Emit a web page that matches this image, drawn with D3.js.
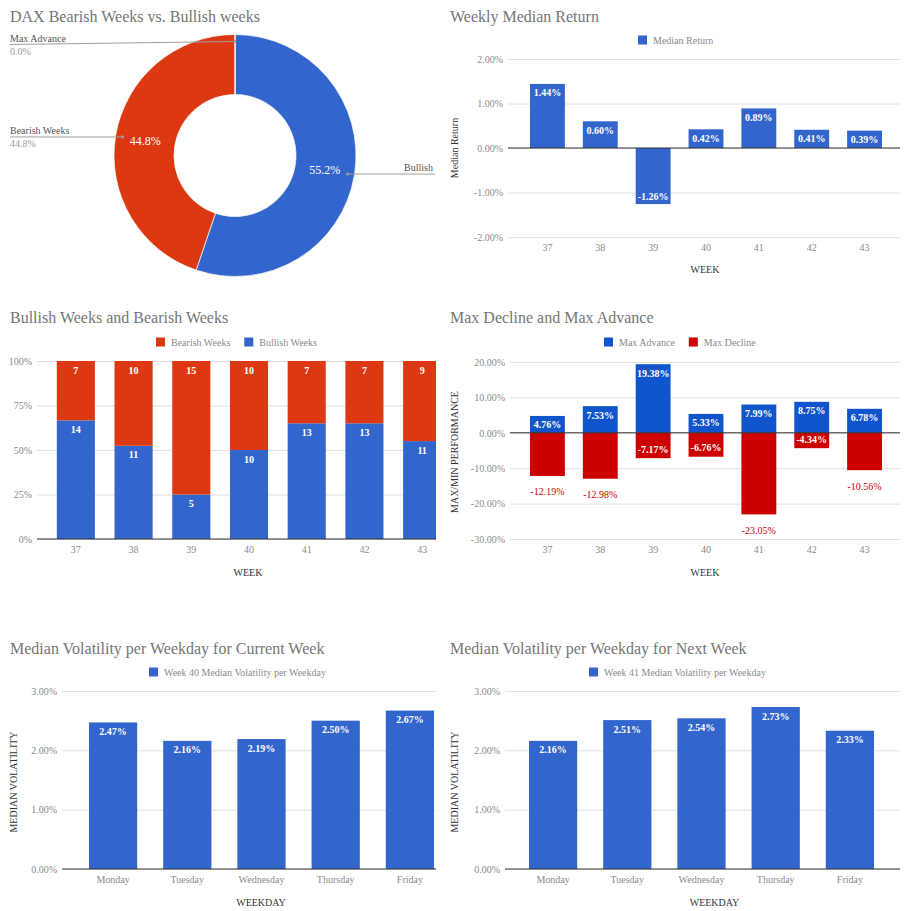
<!DOCTYPE html>
<html>
<head>
<meta charset="utf-8">
<script src="https://cdn.jsdelivr.net/npm/d3@7"></script>
<style>
  html, body { margin: 0; padding: 0; background: #fff; }
  svg { display: block; font-family: "Liberation Serif", "DejaVu Serif", serif; }
</style>
</head>
<body>
<svg id="chart" width="907" height="911"></svg>
<script>
// ---------- DATA ----------
const weeks = ["37", "38", "39", "40", "41", "42", "43"];
const medianReturn = [1.44, 0.60, -1.26, 0.42, 0.89, 0.41, 0.39];
const bullishWeeks = [14, 11, 5, 10, 13, 13, 11];
const bearishWeeks = [7, 10, 15, 10, 7, 7, 9];
const maxAdvance = [4.76, 7.53, 19.38, 5.33, 7.99, 8.75, 6.78];
const maxDecline = [-12.19, -12.98, -7.17, -6.76, -23.05, -4.34, -10.56];
const weekdays = ["Monday", "Tuesday", "Wednesday", "Thursday", "Friday"];
const volCurrentWeek = [2.47, 2.16, 2.19, 2.50, 2.67];
const volNextWeek = [2.16, 2.51, 2.54, 2.73, 2.33];
const pieLabels = ["Bullish", "Bearish Weeks", "Max Advance"];
const pieValues = [55.2, 44.8, 0.0];
const returnTicks = [-2, -1, 0, 1, 2];
const stackTicks = [0, 25, 50, 75, 100];
const perfTicks = [-30, -20, -10, 0, 10, 20];
const volTicks = [0, 1, 2, 3];

// ---------- STYLE ----------
const BLUE = "#3366cc", RED = "#dc3912", ADV = "#1155cc", DEC = "#cc0000";
const TITLE = "#757575", TICK = "#8a8a8a", GRID = "#e0e0e0", BASE = "#333333", AXT = "#333333";

const svg = d3.select("#chart");
svg.append("rect").attr("width", 907).attr("height", 911).attr("fill", "#fff");

const defs = svg.append("defs");
defs.append("clipPath").attr("id", "clipLeft").append("rect")
  .attr("x", 0).attr("y", 0).attr("width", 436).attr("height", 911);

function title(x, y, text) {
  svg.append("text").attr("x", x).attr("y", y).attr("fill", TITLE)
    .attr("font-size", 16).text(text);
}

function legend(x, y, items) {
  const g = svg.append("g");
  let cx = x;
  items.forEach(it => {
    g.append("rect").attr("x", cx).attr("y", y - 4.5).attr("width", 9).attr("height", 9).attr("fill", it.color);
    const t = g.append("text").attr("x", cx + 15).attr("y", y + 3.5).attr("fill", TICK)
      .attr("font-size", 10).text(it.label);
    cx += 15 + t.node().getComputedTextLength() + 14;
  });
}

function yTitle(x, y, text) {
  svg.append("text").attr("transform", `translate(${x},${y}) rotate(-90)`)
    .attr("text-anchor", "middle").attr("fill", AXT).attr("font-size", 10).text(text);
}

function xTitle(x, y, text) {
  svg.append("text").attr("x", x).attr("y", y).attr("text-anchor", "middle")
    .attr("fill", AXT).attr("font-size", 10).text(text);
}

// generic frame: returns {g, x, y}
function frame(opt) {
  const g = svg.append("g");
  if (opt.clip) g.attr("clip-path", "url(#clipLeft)");
  const x = d3.scaleBand().domain(opt.cats).range(opt.xr).paddingInner(opt.pad).paddingOuter(opt.pad / 2);
  const y = d3.scaleLinear().domain(opt.yd).range(opt.yr);
  // grid + y tick labels via axis
  const ya = g.append("g").attr("transform", `translate(${opt.gx0},0)`)
    .call(d3.axisLeft(y).tickValues(opt.ticks).tickSize(-(opt.gx1 - opt.gx0)).tickPadding(5).tickFormat(opt.fmt));
  ya.select(".domain").remove();
  ya.selectAll(".tick line").attr("stroke", GRID);
  ya.selectAll(".tick text").attr("fill", TICK).attr("font-size", 10).attr("font-family", "Liberation Serif");
  // x axis labels
  const xa = g.append("g").attr("transform", `translate(0,${opt.xlabY})`)
    .call(d3.axisBottom(x).tickSize(0).tickPadding(0));
  xa.select(".domain").remove();
  xa.selectAll(".tick text").attr("fill", TICK).attr("font-size", 10).attr("font-family", "Liberation Serif").attr("dy", "0.35em");
  return { g, x, y };
}

function baseline(g, y, x0, x1, yv) {
  g.append("line").attr("x1", x0).attr("x2", x1).attr("y1", y(yv)).attr("y2", y(yv))
    .attr("stroke", BASE).attr("stroke-width", 1);
}

// ---------- 1. DONUT ----------
title(10, 22, "DAX Bearish Weeks vs. Bullish weeks");
(function () {
  const cx = 235, cy = 155.5, rO = 121, rI = 61;
  const data = pieLabels.map((l, i) => ({ label: l, value: pieValues[i] }));
  const pie = d3.pie().sort(null).value(d => d.value).startAngle(0).endAngle(2 * Math.PI);
  const arcs = pie(data);
  const arc = d3.arc().innerRadius(rI).outerRadius(rO);
  const colors = [BLUE, RED, "#ff9900"];
  const g = svg.append("g").attr("transform", `translate(${cx},${cy})`);
  g.selectAll("path").data(arcs).join("path")
    .attr("d", arc).attr("fill", (d, i) => colors[i]).attr("stroke", "#fff").attr("stroke-width", 0.7);
  const mid = d3.arc().innerRadius((rI + rO) / 2).outerRadius((rI + rO) / 2);
  arcs.forEach((a, i) => {
    if (a.value <= 0) return;
    const [px, py] = mid.centroid(a);
    g.append("text").attr("x", px).attr("y", py + 4).attr("text-anchor", "middle")
      .attr("fill", "#fff").attr("font-size", 12).text(a.value.toFixed(1) + "%");
  });
  // callouts
  const dotArc = d3.arc().innerRadius(114).outerRadius(114);
  arcs.forEach((a, i) => {
    const [px, py] = dotArc.centroid(a);
    const dx = cx + px, dy = cy + py;
    svg.append("circle").attr("cx", dx).attr("cy", dy).attr("r", 1.6).attr("fill", "#999");
    if (i === 0) { // right side
      svg.append("line").attr("x1", dx).attr("y1", dy).attr("x2", 435).attr("y2", dy).attr("stroke", "#9e9e9e");
      svg.append("text").attr("x", 433).attr("y", dy - 3).attr("text-anchor", "end").attr("fill", "#555").attr("font-size", 10).text(a.data.label);
    } else {
      const ly = i === 1 ? dy : dy + 3;
      svg.append("line").attr("x1", dx).attr("y1", dy).attr("x2", 10).attr("y2", ly).attr("stroke", "#9e9e9e");
      svg.append("text").attr("x", 10).attr("y", ly - 3).attr("fill", "#555").attr("font-size", 10).text(a.data.label);
      svg.append("text").attr("x", 10).attr("y", ly + 10).attr("fill", "#9e9e9e").attr("font-size", 10).text(a.value.toFixed(1) + "%");
    }
  });
})();

// ---------- 2. WEEKLY MEDIAN RETURN ----------
title(450, 22, "Weekly Median Return");
legend(638, 40, [{ label: "Median Return", color: BLUE }]);
(function () {
  const f = frame({ cats: weeks, xr: [521, 891], pad: 0.34, yd: [-2, 2], yr: [237, 59],
    ticks: returnTicks, fmt: d => d.toFixed(2) + "%", gx0: 508, gx1: 900, xlabY: 247 });
  const { g, x, y } = f;
  const data = weeks.map((w, i) => ({ w, v: medianReturn[i] }));
  g.selectAll("rect.bar").data(data).join("rect").attr("class", "bar")
    .attr("x", d => x(d.w)).attr("width", x.bandwidth())
    .attr("y", d => y(Math.max(0, d.v))).attr("height", d => Math.abs(y(d.v) - y(0)))
    .attr("fill", BLUE);
  baseline(g, y, 508, 900, 0);
  g.selectAll("text.lbl").data(data).join("text").attr("class", "lbl")
    .attr("x", d => x(d.w) + x.bandwidth() / 2)
    .attr("y", d => d.v >= 0 ? y(d.v) + 12.5 : y(d.v) - 4.5)
    .attr("text-anchor", "middle").attr("fill", "#fff").attr("font-size", 10).attr("font-weight", "bold")
    .text(d => d.v.toFixed(2) + "%");
  yTitle(458, 148, "Median Return");
  xTitle(705, 273, "WEEK");
})();

// ---------- 3. BULLISH / BEARISH STACKED 100% ----------
title(10, 323, "Bullish Weeks and Bearish Weeks");
legend(156, 342, [{ label: "Bearish Weeks", color: RED }, { label: "Bullish Weeks", color: BLUE }]);
(function () {
  const f = frame({ cats: weeks, xr: [47, 451], pad: 0.34, yd: [0, 100], yr: [539, 361],
    ticks: stackTicks, fmt: d => d + "%", gx0: 37, gx1: 436, xlabY: 549, clip: true });
  const { g, x, y } = f;
  const data = weeks.map((w, i) => {
    const tot = bullishWeeks[i] + bearishWeeks[i];
    return { w, bull: bullishWeeks[i], bear: bearishWeeks[i], pb: bullishWeeks[i] / tot * 100 };
  });
  g.selectAll("rect.bull").data(data).join("rect").attr("class", "bull")
    .attr("x", d => x(d.w)).attr("width", x.bandwidth())
    .attr("y", d => y(d.pb)).attr("height", d => y(0) - y(d.pb)).attr("fill", BLUE);
  g.selectAll("rect.bear").data(data).join("rect").attr("class", "bear")
    .attr("x", d => x(d.w)).attr("width", x.bandwidth())
    .attr("y", d => y(100)).attr("height", d => y(d.pb) - y(100)).attr("fill", RED);
  baseline(g, y, 37, 436, 0);
  g.selectAll("text.lb").data(data).join("text").attr("class", "lb")
    .attr("x", d => x(d.w) + x.bandwidth() / 2).attr("y", d => y(d.pb) + 12.5)
    .attr("text-anchor", "middle").attr("fill", "#fff").attr("font-size", 10).attr("font-weight", "bold").text(d => d.bull);
  g.selectAll("text.lr").data(data).join("text").attr("class", "lr")
    .attr("x", d => x(d.w) + x.bandwidth() / 2).attr("y", d => y(100) + 12.5)
    .attr("text-anchor", "middle").attr("fill", "#fff").attr("font-size", 10).attr("font-weight", "bold").text(d => d.bear);
  xTitle(248, 576, "WEEK");
})();

// ---------- 4. MAX DECLINE / MAX ADVANCE ----------
title(450, 323, "Max Decline and Max Advance");
legend(604, 342, [{ label: "Max Advance", color: ADV }, { label: "Max Decline", color: DEC }]);
(function () {
  const f = frame({ cats: weeks, xr: [521, 891], pad: 0.34, yd: [-30, 20], yr: [539, 362],
    ticks: perfTicks, fmt: d => d.toFixed(2) + "%", gx0: 510, gx1: 900, xlabY: 549 });
  const { g, x, y } = f;
  const data = weeks.map((w, i) => ({ w, a: maxAdvance[i], d: maxDecline[i] }));
  g.selectAll("rect.adv").data(data).join("rect").attr("class", "adv")
    .attr("x", d => x(d.w)).attr("width", x.bandwidth())
    .attr("y", d => y(d.a)).attr("height", d => y(0) - y(d.a)).attr("fill", ADV);
  g.selectAll("rect.dec").data(data).join("rect").attr("class", "dec")
    .attr("x", d => x(d.w)).attr("width", x.bandwidth())
    .attr("y", y(0)).attr("height", d => y(d.d) - y(0)).attr("fill", DEC);
  baseline(g, y, 510, 900, 0);
  g.selectAll("text.la").data(data).join("text").attr("class", "la")
    .attr("x", d => x(d.w) + x.bandwidth() / 2).attr("y", d => y(d.a) + 12.5)
    .attr("text-anchor", "middle").attr("fill", "#fff").attr("font-size", 10).attr("font-weight", "bold")
    .text(d => d.a.toFixed(2) + "%");
  g.selectAll("text.ld").data(data).join("text").attr("class", "ld")
    .attr("x", d => x(d.w) + x.bandwidth() / 2)
    .attr("y", d => Math.abs(d.d) > 10 ? y(d.d) + 19.5 : y(d.d) - 5.5)
    .attr("text-anchor", "middle")
    .attr("fill", d => Math.abs(d.d) > 10 ? DEC : "#fff")
    .attr("font-size", 10).attr("font-weight", d => Math.abs(d.d) > 10 ? "normal" : "bold")
    .text(d => d.d.toFixed(2) + "%");
  yTitle(458, 452, "MAX/MIN PERFORMANCE");
  xTitle(705, 576, "WEEK");
})();

// ---------- 5 & 6. VOLATILITY ----------
function volChart(ox, values, legendX, legendLabel, clip, gx0, gx1, ytx) {
  const f = frame({ cats: weekdays, xr: [ox, ox + 371], pad: 0.35, yd: [0, 3], yr: [869, 691],
    ticks: volTicks, fmt: d => d.toFixed(2) + "%", gx0, gx1, xlabY: 879, clip });
  const { g, x, y } = f;
  const data = weekdays.map((w, i) => ({ w, v: values[i] }));
  g.selectAll("rect.v").data(data).join("rect").attr("class", "v")
    .attr("x", d => x(d.w)).attr("width", x.bandwidth())
    .attr("y", d => y(d.v)).attr("height", d => y(0) - y(d.v)).attr("fill", BLUE);
  baseline(g, y, gx0, gx1, 0);
  g.selectAll("text.lv").data(data).join("text").attr("class", "lv")
    .attr("x", d => x(d.w) + x.bandwidth() / 2).attr("y", d => y(d.v) + 12.5)
    .attr("text-anchor", "middle").attr("fill", "#fff").attr("font-size", 10).attr("font-weight", "bold")
    .text(d => d.v.toFixed(2) + "%");
  legend(legendX, 672, [{ label: legendLabel, color: BLUE }]);
  yTitle(ytx, 782, "MEDIAN VOLATILITY");
  xTitle((gx0 + gx1) / 2 + 12, 906, "WEEKDAY");
}
title(10, 654, "Median Volatility per Weekday for Current Week");
volChart(76, volCurrentWeek, 149, "Week 40 Median Volatility per Weekday", true, 62, 436, 17);
title(450, 654, "Median Volatility per Weekday for Next Week");
volChart(516, volNextWeek, 589, "Week 41 Median Volatility per Weekday", false, 505, 900, 458);
</script>
</body>
</html>
